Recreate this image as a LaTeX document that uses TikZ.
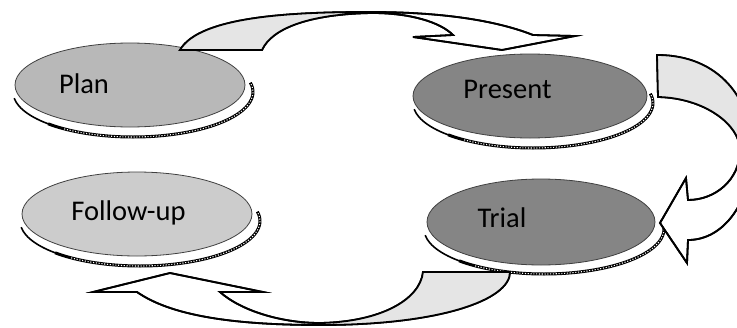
\documentclass[tikz,border=0pt]{standalone}
\usepackage{fontspec}
\setmainfont{Carlito}
\usetikzlibrary{shapes.geometric,calc}
\definecolor{lightfill}{gray}{0.72}
\definecolor{paleFill}{gray}{0.80}
\definecolor{darkfill}{gray}{0.52}
\definecolor{tailfill}{gray}{0.90}
\tikzset{
  stageA/.style={ellipse, draw=black!75, line width=0.8pt, inner sep=0pt},
  lbl/.style={font=\fontsize{28.5}{30}\selectfont, text=black, anchor=base, inner sep=0pt},
  ringbase/.style={draw=black, line width=3pt},
  ringthin/.style={draw=black, line width=1.6pt},
  ringchain/.style={draw=white, line width=1.1pt, dash pattern=on 1.1pt off 1.7pt},
  blockarrow/.style={draw=black, line width=1.8pt, line join=miter, fill=white},
  tailpart/.style={fill=tailfill, draw=none}
}
\newcommand\myring[1]{%
  \draw[ringthin] ($(#1)+(3,7)$) ++(172:120 and 45) arc[start angle=172, end angle=130, x radius=120, y radius=45];
  \draw[ringbase] ($(#1)+(3,7)$) ++(135:120 and 45) arc[start angle=135, end angle=-12, x radius=120, y radius=45];
  \draw[ringchain] ($(#1)+(3,7)$) ++(125:120 and 45) arc[start angle=125, end angle=-11, x radius=120, y radius=45];
}
\begin{document}
\begin{tikzpicture}[x=1pt, y=-1pt]
\clip (0,0) rectangle (737,327);
\fill[white] (0,0) rectangle (737,327);

% centres
\coordinate (cplan) at (130,85);
\coordinate (cpres) at (530,96);
\coordinate (cfoll) at (137,214);
\coordinate (ctrial) at (541,222);

% shadow rings
\myring{cplan}
\myring{cpres}
\myring{cfoll}
\myring{ctrial}

% stages
\node[stageA, fill=lightfill, minimum width=230pt, minimum height=84pt] (plan) at (cplan) {};
\node[stageA, fill=darkfill, minimum width=234pt, minimum height=84pt] (present) at (cpres) {};
\node[stageA, fill=paleFill, minimum width=230pt, minimum height=84pt] (follow) at (cfoll) {};
\node[stageA, fill=darkfill, minimum width=228pt, minimum height=86pt] (trial) at (ctrial) {};

\node[lbl] (plantext) at (84,93) {Plan};
\node[lbl] (presenttext) at (507.5,98) {Present};
\node[lbl] (followtext) at (128.5,220) {Follow-up};
\node[lbl] (trialtext) at (502,227.5) {Trial};

% top arrow: Plan -> Present
\path[blockarrow] (180,50) .. controls (200,15) and (300,12) .. (370,12)
  .. controls (440,12) and (495,20) .. (533,35) -- (575,36) -- (502,50) -- (413,37) -- (453,35)
  .. controls (440,22) and (410,13) .. (372,13)
  .. controls (310,14) and (272,28) .. (262,50) -- cycle;
\fill[tailpart] (180,50) .. controls (200,15) and (300,12) .. (370,12) -- (372,13)
  .. controls (310,14) and (272,28) .. (262,50) -- cycle;
\draw[blockarrow, fill=none] (180,50) .. controls (200,15) and (300,12) .. (370,12)
  .. controls (440,12) and (495,20) .. (533,35) -- (575,36) -- (502,50) -- (413,37) -- (453,35)
  .. controls (440,22) and (410,13) .. (372,13)
  .. controls (310,14) and (272,28) .. (262,50) -- cycle;

% right arrow: Present -> Trial
\path[blockarrow] (657,55) .. controls (720,55) and (752,100) .. (752,150)
  .. controls (752,200) and (725,240) .. (688,240) -- (687,263) -- (660,223) -- (686,178) -- (688,200)
  .. controls (715,200) and (740,180) .. (740,150)
  .. controls (740,125) and (705,98) .. (658,97) -- cycle;
\fill[tailpart] (657,55) .. controls (720,55) and (752,100) .. (752,150) -- (740,150)
  .. controls (740,125) and (705,98) .. (658,97) -- cycle;
\draw[blockarrow, fill=none] (657,55) .. controls (720,55) and (752,100) .. (752,150)
  .. controls (752,200) and (725,240) .. (688,240) -- (687,263) -- (660,223) -- (686,178) -- (688,200)
  .. controls (715,200) and (740,180) .. (740,150)
  .. controls (740,125) and (705,98) .. (658,97) -- cycle;

% bottom arrow: Trial -> Follow-up
\path[blockarrow] (423,272) -- (510,272) .. controls (510,300) and (440,325) .. (320,325)
  .. controls (230,325) and (170,315) .. (137,292) -- (93,292) -- (170,273) -- (263,292) -- (220,292)
  .. controls (240,310) and (280,323) .. (320,323)
  .. controls (380,322) and (420,300) .. (423,272) -- cycle;
\fill[tailpart] (423,272) -- (510,272) .. controls (510,300) and (440,325) .. (320,325) -- (320,323)
  .. controls (380,322) and (420,300) .. (423,272) -- cycle;
\draw[blockarrow, fill=none] (423,272) -- (510,272) .. controls (510,300) and (440,325) .. (320,325)
  .. controls (230,325) and (170,315) .. (137,292) -- (93,292) -- (170,273) -- (263,292) -- (220,292)
  .. controls (240,310) and (280,323) .. (320,323)
  .. controls (380,322) and (420,300) .. (423,272) -- cycle;
\end{tikzpicture}
\end{document}
